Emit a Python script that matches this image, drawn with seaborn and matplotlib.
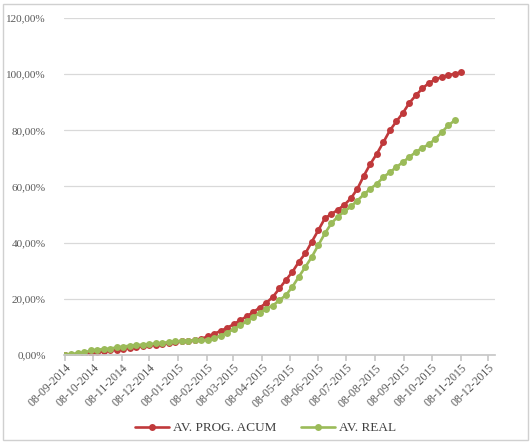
"""
Curva S - avance programado acumulado vs avance real (semanal).
"""

import numpy as np
import pandas as pd
import matplotlib
matplotlib.use("Agg")
import matplotlib.pyplot as plt
import matplotlib.dates as mdates
from matplotlib.patches import Rectangle
from matplotlib.ticker import FuncFormatter
import seaborn as sns

# weekly dates starting 08-09-2014
start_date = "2014-09-08"
n_prog = 62
n_real = 61

# AV. PROG. ACUM (%)
prog_acum = [
    0.0, 0.1, 0.3, 0.5, 0.8, 1.0, 1.3, 1.6, 1.9, 2.2,
    2.5, 2.8, 3.1, 3.4, 3.7, 4.0, 4.3, 4.6, 4.9, 5.0,
    5.2, 5.8, 6.6, 7.6, 8.6, 9.7, 11.0, 12.4, 13.8, 15.3,
    16.9, 18.6, 20.7, 23.7, 26.7, 29.6, 33.2, 36.2, 40.4, 44.5,
    48.7, 50.2, 51.7, 53.5, 55.8, 59.2, 63.9, 68.1, 71.7, 75.8,
    80.0, 83.2, 86.2, 89.8, 92.5, 94.9, 96.9, 98.1, 99.0, 99.6,
    100.2, 100.6,
]

# AV. REAL (%)
av_real = [
    0.0, 0.4, 0.6, 0.9, 1.6, 1.9, 2.1, 2.3, 2.7, 3.0,
    3.3, 3.5, 3.7, 3.9, 4.1, 4.3, 4.6, 4.8, 5.0, 5.1,
    5.2, 5.2, 5.3, 6.0, 6.9, 8.0, 9.2, 10.6, 12.0, 13.5,
    15.0, 16.5, 17.6, 19.5, 21.3, 24.3, 27.9, 31.4, 35.0, 39.2,
    43.3, 46.9, 49.3, 51.1, 52.9, 55.0, 57.2, 59.2, 61.0, 63.3,
    65.1, 66.9, 68.7, 70.5, 72.3, 73.8, 75.0, 77.0, 79.4, 81.8,
    83.6,
]

series_names = ["AV. PROG. ACUM", "AV. REAL"]
series_colors = {"AV. PROG. ACUM": "#C0393B", "AV. REAL": "#9BBB59"}

# ticks on the 8th of every month, 08-09-2014 .. 08-12-2015
tick_dates = pd.date_range("2014-09-01", "2015-12-01", freq="MS") + pd.Timedelta(days=7)


def main():
    dates_prog = pd.date_range(start_date, periods=n_prog, freq="7D")
    dates_real = pd.date_range(start_date, periods=n_real, freq="7D")
    df = pd.concat([
        pd.DataFrame({"fecha": dates_prog, "avance": prog_acum, "serie": series_names[0]}),
        pd.DataFrame({"fecha": dates_real, "avance": av_real, "serie": series_names[1]}),
    ])

    sns.set_theme(style="white")
    plt.rcParams["font.family"] = ["Liberation Serif", "DejaVu Serif"]

    fig = plt.figure(figsize=(5.31, 4.44), dpi=100)
    ax = fig.add_axes([0.1205, 0.2005, 0.8115, 0.759])

    sns.lineplot(data=df, x="fecha", y="avance", hue="serie", hue_order=series_names,
                 palette=series_colors, marker="o", markersize=5, markeredgewidth=0,
                 linewidth=1.9, ax=ax, legend=True)

    ax.set_ylim(0, 120)
    ax.set_yticks(np.arange(0, 121, 20))
    ax.yaxis.set_major_formatter(FuncFormatter(lambda v, p: f"{v:.2f}".replace(".", ",") + "%"))
    ax.set_xlim(pd.Timestamp("2014-09-07"), pd.Timestamp("2015-12-15"))
    ax.set_xticks(tick_dates)
    ax.xaxis.set_major_formatter(mdates.DateFormatter("%d-%m-%Y"))
    ax.set_xlabel("")
    ax.set_ylabel("")

    ax.grid(axis="y", color="#D9D9D9", linewidth=0.9)
    ax.set_axisbelow(True)
    for side in ["top", "right", "left"]:
        ax.spines[side].set_visible(False)
    ax.spines["bottom"].set_color("#C8C8C8")
    ax.tick_params(axis="x", bottom=True, length=4, color="#C8C8C8", labelsize=8.5,
                   labelcolor="#595959", pad=1)
    ax.tick_params(axis="y", left=False, labelsize=8, labelcolor="#595959", pad=7)
    for lbl in ax.get_xticklabels():
        lbl.set_rotation(45)
        lbl.set_ha("right")
        lbl.set_rotation_mode("anchor")

    handles, labels = ax.get_legend_handles_labels()
    ax.legend(handles, labels, loc="center", bbox_to_anchor=(0.5, 0.036), bbox_transform=fig.transFigure,
              ncol=2, frameon=False, fontsize=9.5, handlelength=2.6, columnspacing=1.8,
              handletextpad=0.3, labelcolor="#404040")

    fig.patches.append(Rectangle((0.006, 0.008), 0.988, 0.984, transform=fig.transFigure,
                                 fill=False, edgecolor="#D0D0D0", linewidth=1))

    fig.savefig("out.png", dpi=100)
    plt.close(fig)


if __name__ == "__main__":
    main()
